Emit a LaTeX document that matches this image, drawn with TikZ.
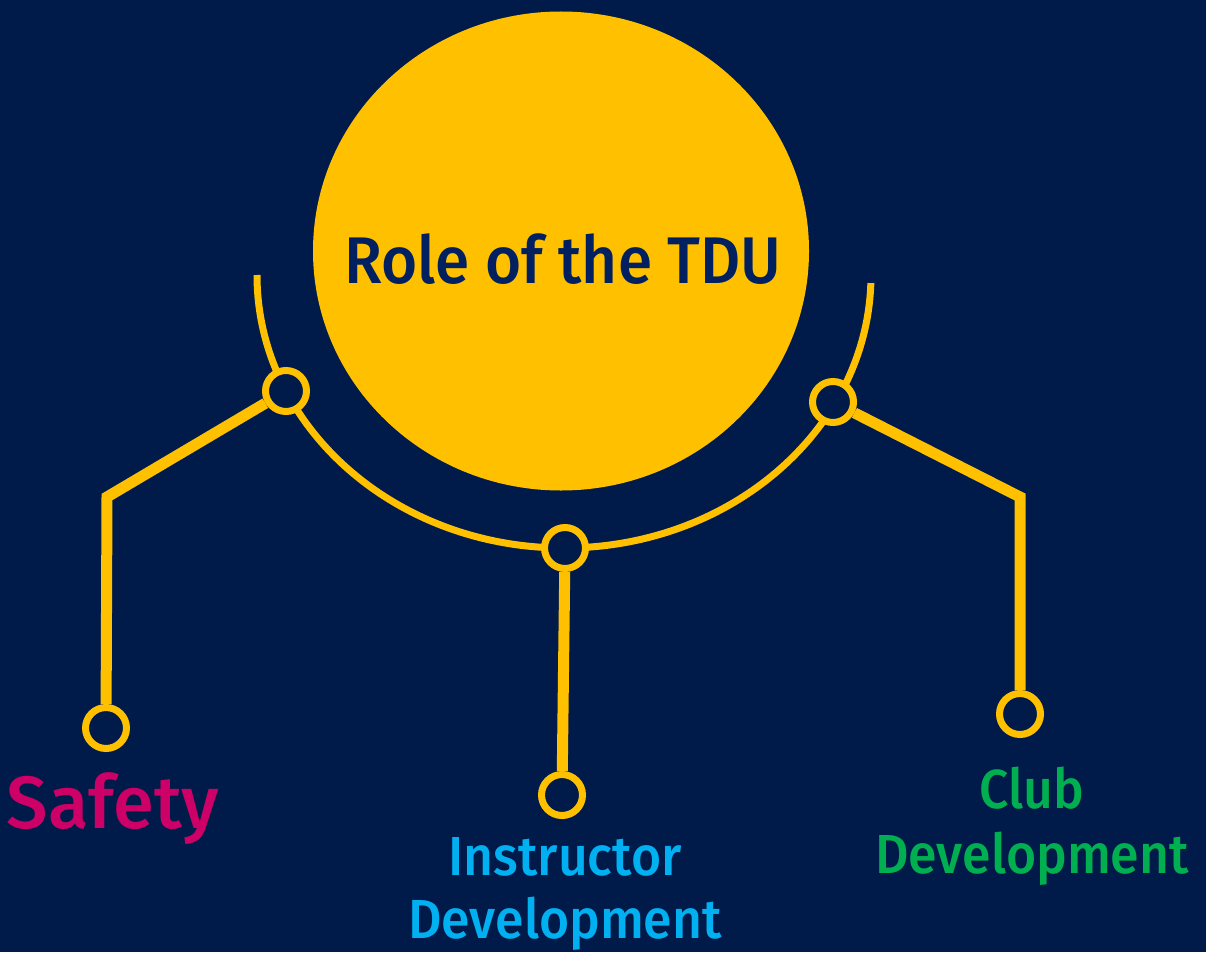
\documentclass[tikz,border=0pt]{standalone}
\usepackage{fontspec}
\setmainfont{Fira Sans}[UprightFont={* Medium}]
\usetikzlibrary{shapes.geometric}
\definecolor{navybg}{HTML}{001A4A}
\definecolor{tduyellow}{HTML}{FFC000}
\definecolor{titleblue}{HTML}{002060}
\definecolor{safetypink}{HTML}{CC0066}
\definecolor{instrblue}{HTML}{00B0F0}
\definecolor{clubgreen}{HTML}{00B050}
\tikzset{
	ring/.style={circle, draw=tduyellow, fill=navybg, line width=7pt, inner sep=0pt, minimum size=41pt},
	link/.style={draw=tduyellow, line width=11pt},
	label/.style={anchor=base, align=center, inner sep=0pt, xscale=0.94, transform shape}
}
\begin{document}
\begin{tikzpicture}[x=1pt, y=-1pt]
	\fill[navybg] (0,0) rectangle (1206,952);
	\node (0) [ellipse, fill=tduyellow, minimum width=496pt, minimum height=479pt, inner sep=0pt] at (561,251) {};
	\node [label, text=titleblue, font=\fontsize{66}{66}\selectfont] at (563,283) {Role of the TDU};
	
	\coordinate (aL) at (257,275);
	\coordinate (kL) at (107,497);
	\coordinate (kR) at (1020,497);
	% arc round the lower half of the circle
	\draw[tduyellow, line width=7pt] (aL) arc[start angle=180, end angle=358.3, x radius=307pt, y radius=273pt];
	
	\node (1) [ring] at (286,391) {};
	\node (2) [ring] at (565,548) {};
	\node (3) [ring] at (833,402) {};
	\node (4) [ring] at (106,728) {};
	\node (5) [ring] at (562,795) {};
	\node (6) [ring] at (1020,714) {};
	
	\draw[link] (1) -- (kL) -- (4);
	\draw[link] (2) -- (5);
	\draw[link] (3) -- (kR) -- (6);
	
	\node (7) [label, xscale=1/0.94, text=safetypink, font=\fontsize{74}{74}\selectfont] at (113,828) {Safety};
	\node (8) [label, text=instrblue, font=\fontsize{55}{63}\selectfont] at (565,938) {Instructor\\Development};
	\node (9) [label, text=clubgreen, font=\fontsize{55}{65}\selectfont] at (1032,873) {Club\\Development};
\end{tikzpicture}
\end{document}
